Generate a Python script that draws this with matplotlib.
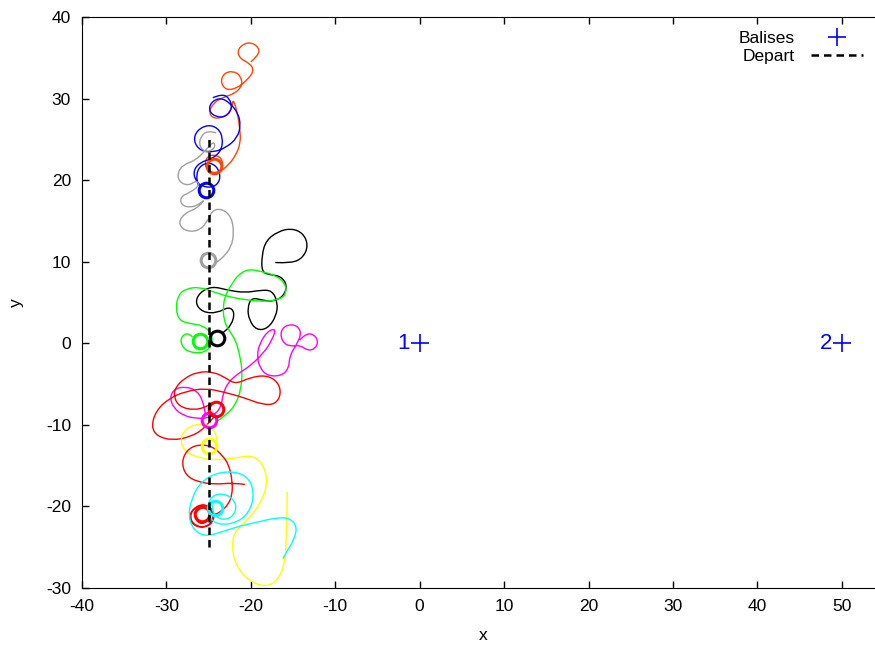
import matplotlib
matplotlib.use("Agg")
import matplotlib.pyplot as plt
from matplotlib.path import Path
from matplotlib.patches import PathPatch

plt.rcParams['font.family'] = ['Liberation Sans', 'DejaVu Sans']
plt.rcParams['axes.unicode_minus'] = False

# beacons
balise_x = [0, 50]
balise_y = [0, 0]
balise_names = ["1", "2"]

# start line
depart_x = [-25, -25]
depart_y = [-25, 25]

# robot trajectories (x, y)
orange_x = [-20.0, -19.1, -19.0, -19.9, -20.9, -21.6, -21.3, -20.1, -19.6, -20.5, -21.6, -22.9,
            -23.6, -23.2, -22.1, -21.2, -21.0, -21.9, -23.2, -24.4, -25.0, -24.4, -22.9, -22.2,
            -22.1, -21.6, -21.3, -21.2, -21.8, -22.7, -23.8, -25.0, -25.5, -25.1, -24.0, -23.3,
            -23.4]
orange_y = [34.5, 35.3, 36.2, 36.9, 36.7, 35.9, 34.9, 34.3, 33.4, 32.2, 31.3, 31.0,
            32.0, 33.1, 33.4, 32.8, 31.6, 30.6, 30.2, 29.5, 28.3, 27.5, 27.8, 29.0,
            30.0, 28.3, 26.3, 24.6, 23.0, 21.8, 20.9, 21.0, 22.0, 23.0, 23.1, 22.4,
            21.3]

blue_x = [-24.5, -23.4, -22.5, -22.2, -22.9, -24.1, -25.0, -24.7, -23.6, -22.5, -21.5, -21.2,
          -21.6, -22.9, -24.5, -26.0, -26.8, -26.4, -25.1, -23.9, -23.3, -23.5, -24.6, -26.0,
          -26.8, -26.6, -25.8, -24.4, -23.6, -23.8, -24.8, -26.0, -26.5, -26.2]
blue_y = [30.1, 30.6, 30.0, 28.8, 27.8, 27.7, 28.5, 29.6, 30.1, 29.5, 28.2, 26.7,
          25.2, 24.0, 23.4, 23.6, 24.8, 26.1, 26.8, 26.4, 25.2, 23.6, 22.6, 22.2,
          21.2, 20.0, 19.2, 19.1, 20.0, 21.4, 22.2, 21.8, 20.6, 19.3]

gray_x = [-24.1, -25.1, -26.0, -26.1, -25.3, -24.2, -24.4, -25.4, -26.6, -28.0, -28.7, -28.5,
          -27.4, -26.4, -26.1, -27.2, -28.3, -28.3, -27.2, -26.0, -25.4, -26.4, -27.8, -28.6,
          -27.9, -26.3, -25.2, -24.6, -23.4, -22.3, -22.0, -22.3, -23.4, -24.3]
gray_y = [25.8, 26.1, 25.3, 24.1, 23.4, 23.9, 24.8, 23.6, 22.4, 21.9, 20.9, 19.8,
          19.3, 20.0, 19.3, 18.5, 18.0, 17.0, 16.6, 17.1, 17.7, 16.5, 16.0, 14.8,
          13.8, 13.7, 14.8, 16.3, 16.5, 15.5, 13.6, 11.8, 10.4, 9.8]

black_x = [-17.1, -15.2, -13.8, -13.2, -13.8, -15.2, -16.8, -18.2, -18.7, -18.7, -17.7, -16.4,
           -15.7, -16.1, -17.3, -18.7, -19.9, -20.4, -20.2, -19.3, -18.0, -17.0, -16.8, -17.5,
           -18.9, -20.7, -22.7, -24.6, -26.1, -26.6, -25.7, -24.0, -22.6, -21.9, -22.3, -23.3]
black_y = [9.9, 9.8, 10.5, 12.0, 13.5, 14.1, 13.7, 12.6, 10.8, 8.7, 8.4, 8.2,
           7.1, 5.8, 5.1, 5.3, 5.6, 4.4, 2.8, 1.6, 1.8, 3.3, 5.0, 6.5,
           6.5, 6.2, 6.5, 7.0, 6.2, 4.9, 3.8, 3.7, 4.5, 3.8, 2.2, 1.3]

green_x = [-23.9, -22.8, -21.8, -21.2, -21.0, -21.3, -21.8, -22.6, -23.2, -23.3, -22.9, -22.2,
           -21.5, -20.3, -18.7, -17.0, -15.9, -15.8, -16.5, -18.3, -20.3, -22.2, -24.2, -26.0,
           -27.7, -28.6, -28.9, -28.5, -27.2, -25.7, -24.6, -24.6, -25.4, -26.8, -28.0, -28.4,
           -27.6, -26.9]
green_y = [-9.5, -8.7, -7.5, -5.8, -3.5, -1.5, 0.4, 1.6, 2.8, 4.7, 6.2, 7.3,
           8.4, 9.1, 8.8, 8.3, 7.3, 6.1, 5.4, 5.1, 5.3, 5.6, 6.2, 6.9,
           6.7, 5.9, 4.3, 2.8, 2.4, 2.2, 1.2, -0.2, -1.1, -1.2, -0.7, 0.6,
           1.3, 0.8]

magenta_x = [-14.2, -13.5, -12.5, -12.0, -12.4, -13.3, -14.2, -15.4, -16.3, -16.5, -15.7, -14.5,
             -14.0, -14.6, -15.4, -15.5, -16.4, -18.0, -18.9, -19.3, -18.9, -18.0, -17.0, -17.5,
             -18.4, -20.1, -21.5, -22.7, -23.3, -23.5, -24.2, -25.2, -26.5, -27.9, -29.1, -29.6,
             -29.1, -27.7, -26.4, -25.7, -25.4]
magenta_y = [0.4, 1.2, 1.1, 0.2, -0.7, -0.9, -0.2, -0.4, 0.2, 1.5, 2.3, 2.2,
             1.2, -0.2, -1.5, -3.1, -4.0, -4.0, -3.1, -1.5, 0.1, 1.5, 1.8, 0.4,
             -1.1, -2.8, -3.7, -4.8, -6.2, -7.7, -8.7, -9.2, -9.2, -8.9, -8.0, -6.7,
             -5.6, -5.3, -5.8, -7.0, -8.6]

red_x = [-24.2, -25.4, -27.2, -29.3, -31.1, -31.8, -31.2, -29.6, -27.7, -25.4, -23.1, -20.7,
         -18.7, -17.1, -16.4, -16.8, -18.2, -20.1, -21.8, -22.9, -24.4, -26.3, -27.9, -29.0,
         -29.1, -28.4, -26.7, -25.3, -24.6]
red_y = [-8.8, -10.4, -11.5, -11.9, -11.4, -10.2, -8.2, -6.7, -5.9, -5.5, -6.0, -6.7,
         -7.5, -7.5, -6.2, -4.7, -3.9, -4.2, -5.0, -4.3, -3.5, -3.5, -4.3, -5.5,
         -6.7, -7.8, -8.2, -7.8, -7.3]

yellow_x = [-15.7, -15.7, -15.8, -15.9, -16.7, -18.2, -20.3, -21.8, -22.3, -21.8, -20.1, -18.6,
            -18.0, -18.6, -19.9, -21.9, -23.9, -26.0, -27.8, -28.4, -27.7, -26.0, -24.6, -24.0,
            -24.2]
yellow_y = [-18.2, -20.4, -23.5, -26.6, -29.0, -29.9, -29.1, -27.2, -24.7, -22.9, -21.4, -19.2,
            -16.8, -14.7, -13.7, -14.1, -14.3, -14.1, -13.3, -11.9, -10.4, -9.8, -10.2, -11.5,
            -12.1]

red2_x = [-20.7, -22.2, -24.2, -26.3, -27.7, -28.2, -27.6, -26.3, -24.6, -23.4, -22.6, -22.2,
          -22.2, -22.7, -23.6, -24.5, -24.8, -26.0, -27.1, -27.1, -26.0, -24.7, -24.2, -25.1,
          -26.5, -27.4, -26.8, -25.4, -24.4, -24.7, -26.0, -26.8, -26.1, -25.1, -24.8]
red2_y = [-17.3, -17.1, -17.3, -17.0, -16.2, -14.6, -13.1, -12.4, -12.6, -13.7, -14.9, -16.8,
          -18.6, -19.8, -20.7, -21.1, -20.0, -19.7, -20.6, -21.9, -22.6, -22.3, -20.9, -19.8,
          -20.0, -21.1, -22.4, -22.6, -21.7, -20.2, -20.1, -21.1, -22.2, -21.9, -20.9]

cyan_x = [-16.2, -15.6, -14.9, -14.5, -15.4, -17.1, -19.1, -21.3, -23.4, -25.4, -26.8, -27.4,
          -27.0, -26.0, -24.2, -21.8, -20.1, -19.6, -20.2, -21.5, -23.4, -24.8, -25.2, -24.4,
          -22.7, -21.6, -22.1, -23.4, -24.5, -24.6]
cyan_y = [-26.4, -25.3, -24.1, -22.5, -21.4, -21.4, -21.9, -22.4, -23.1, -23.7, -22.9, -21.1,
          -19.0, -17.1, -15.9, -15.7, -16.6, -18.7, -20.7, -21.9, -22.3, -21.7, -19.8, -18.5,
          -18.5, -19.8, -21.3, -21.7, -20.9, -19.7]

# centres of the small orbits each robot ends in
orbit_x = [-24.4, -25.3, -25.1, -24.0, -26.0, -25.0, -24.1, -25.0, -25.8, -24.2]
orbit_y = [21.7, 18.8, 10.2, 0.6, 0.3, -9.4, -8.0, -12.6, -20.9, -20.2]

robot_colors = ['#ff4500', '#0000ff', '#a0a0a0', '#000000', '#00ff00',
                '#ff00ff', '#ff0000', '#ffff00', '#ff0000', '#00ffff']
robot_paths = [(orange_x, orange_y), (blue_x, blue_y), (gray_x, gray_y),
               (black_x, black_y), (green_x, green_y), (magenta_x, magenta_y),
               (red_x, red_y), (yellow_x, yellow_y), (red2_x, red2_y), (cyan_x, cyan_y)]


def smooth_path(xs, ys):
    # quadratic b-spline through the read points, drawn by matplotlib
    pts = list(zip(xs, ys))
    verts = [pts[0]]
    codes = [Path.MOVETO]
    for i in range(1, len(pts) - 1):
        mid = ((pts[i][0] + pts[i + 1][0]) / 2, (pts[i][1] + pts[i + 1][1]) / 2)
        verts += [pts[i], mid]
        codes += [Path.CURVE3, Path.CURVE3]
    verts.append(pts[-1])
    codes.append(Path.LINETO)
    return Path(verts, codes)


fig = plt.figure(figsize=(8.75, 6.45), dpi=100)
ax = fig.add_axes([82 / 875, 57 / 645, 802 / 875, 571 / 645])

for (xs, ys), col in zip(robot_paths, robot_colors):
    ax.add_patch(PathPatch(smooth_path(xs, ys), facecolor='none', edgecolor=col,
                           lw=1.0, zorder=2))

for ox, oy, col in zip(orbit_x, orbit_y, robot_colors):
    ax.plot([ox], [oy], ls='none', marker='o', ms=10.5, mfc='none', mec=col,
            mew=2.2, zorder=2)

h_bal, = ax.plot(balise_x, balise_y, ls='none', marker='+', ms=13, mew=1.2,
                 color='#0000ff', label='Balises', zorder=4)
for bx, by, name in zip(balise_x, balise_y, balise_names):
    ax.annotate(name, (bx, by), xytext=(-7, 0), textcoords='offset points',
                ha='right', va='center', color='#0000ff', fontsize=16)

h_dep, = ax.plot(depart_x, depart_y, color='black', lw=1.8, ls=(0, (3, 2)),
                 label='Depart', zorder=3)

ax.set_xlim(-40, 55)
ax.set_ylim(-30, 40)
ax.set_xticks(range(-40, 51, 10))
ax.set_yticks(range(-30, 41, 10))
ax.tick_params(direction='in', length=5, width=1, top=True, right=True,
               labelsize=12.5, pad=8)
ax.set_xlabel('x', fontsize=12.5, labelpad=10)
ax.set_ylabel('y', fontsize=12.5, labelpad=16)
ax.spines['right'].set_visible(False)

ax.legend(handles=[h_bal, h_dep], loc='upper left', bbox_to_anchor=(739 / 875, 1 - 31 / 645),
          bbox_transform=fig.transFigure, frameon=False, markerfirst=False,
          fontsize=12.5, handlelength=3.0, handletextpad=0.9, labelspacing=0.15,
          borderpad=0, borderaxespad=0)

plt.savefig('out.png', dpi=100)
